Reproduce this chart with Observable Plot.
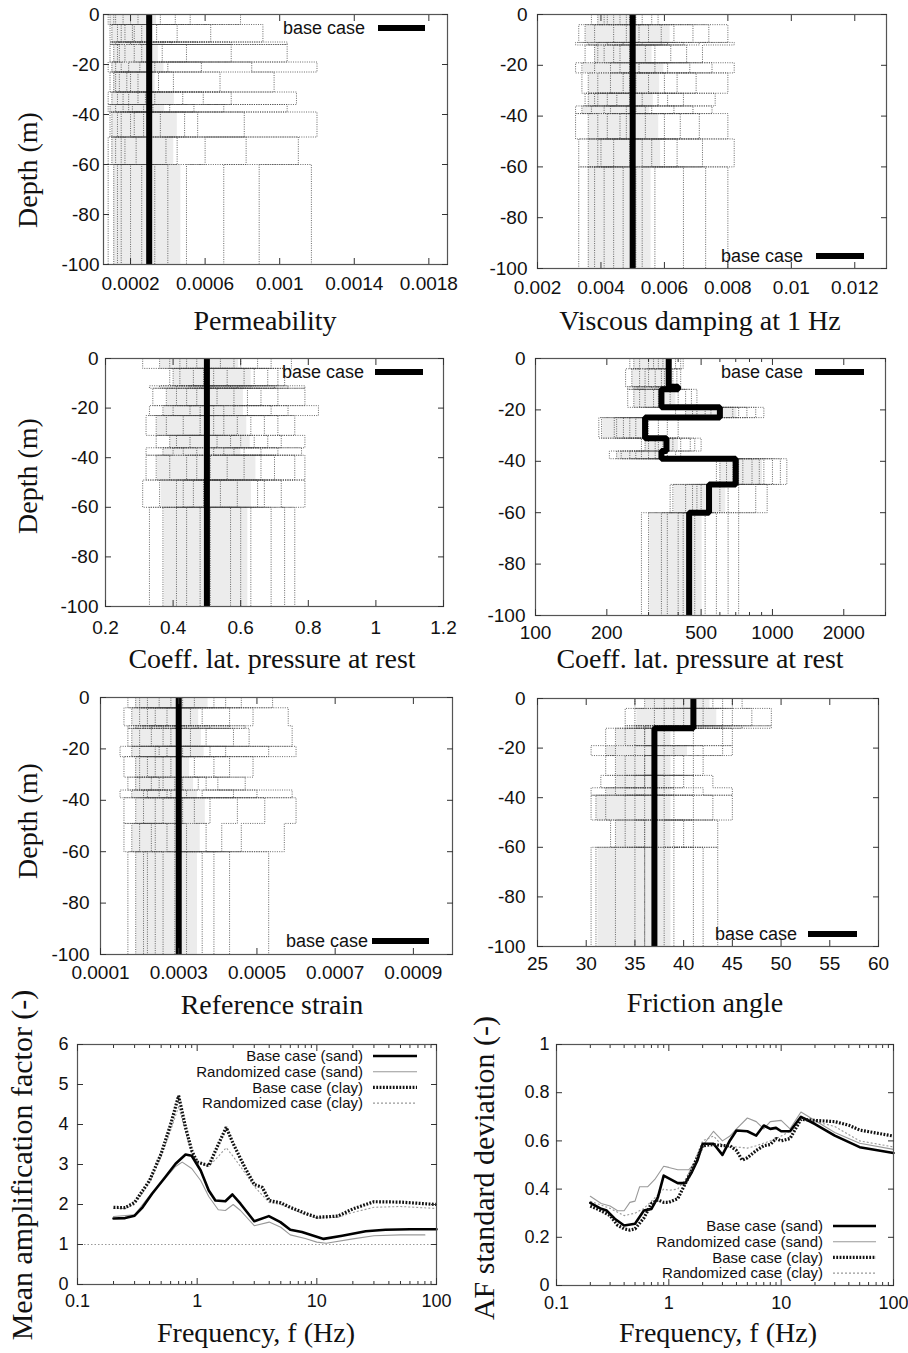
<!DOCTYPE html>
<html><head><meta charset="utf-8">
<script src="https://cdn.jsdelivr.net/npm/d3@7"></script>
<script src="https://cdn.jsdelivr.net/npm/@observablehq/plot@0.6"></script>
<style>
html,body{margin:0;padding:0;background:#fff;}
#page{position:relative;width:908px;height:1353px;overflow:hidden;background:#fff;}
.panel{position:absolute;}
#overlay{position:absolute;left:0;top:0;pointer-events:none;}
</style></head><body><div id="page"></div>
<script>
// ---------- layer structure (depth, m) ----------
const layerTop    = [0, -4, -11, -12, -19, -23, -31, -36, -39, -49, -60];
const layerBottom = [-4, -11, -12, -19, -23, -31, -36, -39, -49, -60, -100];
const depthTicks  = [0, -20, -40, -60, -80, -100];
const depthLabels = ["0", "-20", "-40", "-60", "-80", "-100"];

// ---------- Permeability (12 realizations per layer) ----------
const permBase = [3e-4,3e-4,3e-4,3e-4,3e-4,3e-4,3e-4,3e-4,3e-4,3e-4,3e-4];
const permReal = [
  [1.2e-4,2.4e-4,0.9e-4,3.6e-4,1.6e-4,5.2e-4,2.0e-4,0.8e-4,2.9e-4,7.9e-4,1.1e-4,4.4e-4],
  [2.1e-4,0.9e-4,4.5e-4,1.3e-4,9.1e-4,2.6e-4,1.7e-4,6.3e-4,1.0e-4,3.4e-4,1.5e-4,2.2e-4],
  [1.0e-4,3.1e-4,1.8e-4,10.4e-4,2.5e-4,1.2e-4,5.6e-4,0.9e-4,2.0e-4,4.2e-4,1.4e-4,7.4e-4],
  [1.4e-4,10.4e-4,2.2e-4,0.9e-4,7.4e-4,1.7e-4,3.7e-4,1.1e-4,5.0e-4,2.6e-4,1.3e-4,3.0e-4],
  [0.8e-4,2.5e-4,12.0e-4,1.5e-4,4.0e-4,1.0e-4,2.9e-4,8.5e-4,1.9e-4,5.8e-4,1.2e-4,3.3e-4],
  [2.9e-4,1.1e-4,1.8e-4,6.8e-4,0.9e-4,4.3e-4,2.4e-4,9.7e-4,1.4e-4,3.5e-4,2.0e-4,1.2e-4],
  [1.3e-4,4.8e-4,0.8e-4,2.4e-4,10.9e-4,1.9e-4,3.3e-4,1.0e-4,7.4e-4,2.8e-4,1.6e-4,5.9e-4],
  [3.2e-4,0.9e-4,1.6e-4,5.4e-4,2.1e-4,10.4e-4,1.2e-4,2.7e-4,0.8e-4,4.1e-4,1.9e-4,7.0e-4],
  [1.0e-4,2.7e-4,4.9e-4,1.5e-4,12.0e-4,0.9e-4,3.6e-4,2.2e-4,8.1e-4,1.3e-4,5.6e-4,2.0e-4],
  [2.3e-4,1.2e-4,3.9e-4,0.8e-4,6.0e-4,1.7e-4,11.0e-4,2.9e-4,1.0e-4,4.5e-4,1.5e-4,8.2e-4],
  [1.1e-4,3.3e-4,0.8e-4,2.0e-4,5.0e-4,1.5e-4,8.9e-4,2.6e-4,11.7e-4,1.3e-4,4.0e-4,7.0e-4]
];
const permTicks  = [0.0002, 0.0006, 0.001, 0.0014, 0.0018];
const permLabels = ["0.0002", "0.0006", "0.001", "0.0014", "0.0018"];

// ---------- Viscous damping at 1 Hz ----------
const dampBase = [0.005,0.005,0.005,0.005,0.005,0.005,0.005,0.005,0.005,0.005,0.005];
const dampReal = [
  [4.1e-3,5.3e-3,3.7e-3,4.8e-3,5.8e-3,4.4e-3,3.9e-3,5.1e-3,4.6e-3,5.6e-3,4.2e-3,4.9e-3],
  [3.3e-3,5.2e-3,6.9e-3,4.4e-3,8.0e-3,3.8e-3,5.9e-3,4.8e-3,7.4e-3,3.5e-3,6.3e-3,5.5e-3],
  [5.9e-3,3.2e-3,4.7e-3,8.2e-3,3.9e-3,6.6e-3,5.3e-3,4.2e-3,7.1e-3,3.6e-3,5.0e-3,6.1e-3],
  [3.8e-3,6.2e-3,4.4e-3,7.2e-3,3.5e-3,5.4e-3,4.1e-3,6.7e-3,4.9e-3,3.9e-3,5.7e-3,4.6e-3],
  [6.8e-3,3.4e-3,8.2e-3,4.9e-3,3.2e-3,5.7e-3,7.5e-3,4.3e-3,6.1e-3,3.8e-3,5.2e-3,4.6e-3],
  [4.7e-3,3.4e-3,6.4e-3,5.5e-3,8.0e-3,3.9e-3,4.3e-3,7.0e-3,5.1e-3,3.6e-3,6.0e-3,4.9e-3],
  [3.6e-3,5.8e-3,4.2e-3,7.6e-3,3.9e-3,4.9e-3,6.6e-3,3.5e-3,5.3e-3,4.5e-3,6.1e-3,3.8e-3],
  [5.1e-3,3.2e-3,7.5e-3,4.3e-3,3.7e-3,6.3e-3,4.8e-3,5.6e-3,3.4e-3,4.1e-3,6.9e-3,5.4e-3],
  [3.2e-3,6.0e-3,4.6e-3,8.0e-3,3.6e-3,5.4e-3,7.1e-3,4.2e-3,3.9e-3,6.5e-3,5.0e-3,4.8e-3],
  [4.9e-3,3.3e-3,6.4e-3,5.6e-3,8.2e-3,4.0e-3,3.6e-3,7.2e-3,5.3e-3,4.4e-3,6.0e-3,3.9e-3],
  [3.3e-3,4.4e-3,5.3e-3,6.6e-3,3.8e-3,8.0e-3,5.1e-3,4.1e-3,7.3e-3,3.6e-3,5.7e-3,4.7e-3]
];
const dampTicks  = [0.002, 0.004, 0.006, 0.008, 0.01, 0.012];
const dampLabels = ["0.002", "0.004", "0.006", "0.008", "0.01", "0.012"];

// ---------- Coeff. lat. pressure at rest (linear) ----------
const k0Base = [0.5,0.5,0.5,0.5,0.5,0.5,0.5,0.5,0.5,0.5,0.5];
const k0Real = [
  [0.42,0.58,0.31,0.65,0.47,0.75,0.36,0.54,0.69,0.44,0.60,0.39],
  [0.52,0.39,0.73,0.46,0.61,0.42,0.68,0.56,0.40,0.64,0.49,0.71],
  [0.33,0.79,0.48,0.57,0.41,0.70,0.36,0.63,0.52,0.45,0.74,0.59],
  [0.62,0.34,0.53,0.79,0.41,0.47,0.71,0.38,0.58,0.66,0.44,0.50],
  [0.45,0.69,0.33,0.58,0.83,0.40,0.62,0.52,0.74,0.37,0.55,0.48],
  [0.38,0.55,0.71,0.32,0.48,0.63,0.76,0.43,0.59,0.52,0.35,0.67],
  [0.64,0.41,0.79,0.50,0.35,0.57,0.45,0.72,0.39,0.60,0.53,0.68],
  [0.32,0.47,0.58,0.78,0.43,0.66,0.37,0.52,0.71,0.55,0.40,0.61],
  [0.56,0.32,0.66,0.44,0.76,0.51,0.39,0.70,0.47,0.61,0.35,0.79],
  [0.46,0.67,0.31,0.59,0.41,0.79,0.54,0.36,0.65,0.49,0.72,0.43],
  [0.37,0.51,0.63,0.44,0.76,0.33,0.57,0.69,0.41,0.48,0.73,0.60]
];
const k0Ticks  = [0.2, 0.4, 0.6, 0.8, 1, 1.2];
const k0Labels = ["0.2", "0.4", "0.6", "0.8", "1", "1.2"];

// ---------- Coeff. lat. pressure at rest (log panel) ----------
const gBase = [365,365,400,340,600,290,357,340,700,540,445];
const gReal = [
  [300,360,250,410,330,275,390,345,260,420,315,370],
  [340,240,395,290,365,255,410,320,275,380,300,350],
  [270,380,320,245,405,350,290,330,260,395,310,360],
  [290,480,245,370,315,430,260,340,400,275,455,330],
  [520,390,780,460,920,610,430,680,550,850,480,720],
  [250,190,330,215,285,400,235,300,185,360,265,220],
  [360,280,450,320,500,300,410,345,290,470,380,330],
  [280,220,360,250,410,300,230,340,205,390,265,320],
  [750,600,920,680,1150,820,640,1000,720,880,580,1080],
  [480,380,650,540,850,430,720,500,370,600,950,460],
  [400,300,520,360,650,440,280,580,470,340,720,420]
];
const gTicks      = [100, 200, 500, 1000, 2000];
const gLabels     = ["100", "200", "500", "1000", "2000"];
const gMinorTicks = [300, 400, 600, 700, 800, 900, 3000];

// ---------- Reference strain ----------
const strainBase = [3e-4,3e-4,3e-4,3e-4,3e-4,3e-4,3e-4,3e-4,3e-4,3e-4,3e-4];
const strainReal = [
  [2.2e-4,3.4e-4,1.7e-4,4.6e-4,2.8e-4,5.4e-4,1.9e-4,3.9e-4,2.5e-4,3.1e-4,2.0e-4,4.2e-4],
  [3.0e-4,1.6e-4,4.3e-4,2.4e-4,5.8e-4,2.0e-4,3.6e-4,2.7e-4,4.9e-4,1.8e-4,3.3e-4,2.2e-4],
  [2.1e-4,4.7e-4,1.7e-4,3.2e-4,5.9e-4,2.6e-4,3.8e-4,1.9e-4,2.9e-4,4.3e-4,2.3e-4,3.5e-4],
  [4.4e-4,2.3e-4,3.0e-4,1.7e-4,5.9e-4,2.6e-4,3.7e-4,2.0e-4,4.8e-4,2.8e-4,1.8e-4,3.3e-4],
  [1.5e-4,3.3e-4,2.4e-4,6.0e-4,2.0e-4,4.2e-4,2.7e-4,3.8e-4,1.8e-4,5.3e-4,2.5e-4,3.1e-4],
  [2.6e-4,1.6e-4,3.9e-4,2.2e-4,4.9e-4,3.0e-4,1.9e-4,2.8e-4,4.3e-4,2.4e-4,3.4e-4,2.0e-4],
  [3.5e-4,2.0e-4,4.7e-4,2.6e-4,1.7e-4,3.1e-4,4.0e-4,2.3e-4,2.9e-4,1.9e-4,3.7e-4,2.5e-4],
  [1.5e-4,2.8e-4,3.6e-4,2.1e-4,5.9e-4,2.5e-4,4.4e-4,1.8e-4,3.2e-4,2.7e-4,5.0e-4,2.2e-4],
  [2.4e-4,1.6e-4,3.8e-4,5.2e-4,2.1e-4,6.0e-4,2.9e-4,3.4e-4,1.9e-4,4.5e-4,2.6e-4,3.1e-4],
  [3.2e-4,2.3e-4,1.6e-4,4.6e-4,2.7e-4,5.7e-4,2.0e-4,3.7e-4,2.4e-4,4.1e-4,1.8e-4,2.9e-4],
  [1.7e-4,2.6e-4,3.6e-4,2.1e-4,5.3e-4,2.9e-4,1.9e-4,4.3e-4,2.4e-4,3.2e-4,2.2e-4,3.9e-4]
];
const strainTicks  = [0.0001, 0.0003, 0.0005, 0.0007, 0.0009];
const strainLabels = ["0.0001", "0.0003", "0.0005", "0.0007", "0.0009"];

// ---------- Friction angle ----------
const phiBase = [41,41,41,37,37,37,37,37,37,37,37];
const phiReal = [
  [38,42,35,44,40,36,46,39,41,37,43,45],
  [41,35,47,39,44,34,49,42,37,45,40,38],
  [36,44,40,49,34,42,38,46,41,35,43,39],
  [35,32,39,37,44,33,36,41,34,38,45,36],
  [37,30.5,42,35,45,33,39,36,41,32,38,44],
  [36,33,39,35,42,32,37,40,34,38,36,41],
  [38,31.5,35,41,36,43,33,39,37,34,40,36],
  [34,39,30.5,42,36,45,33,38,35,41,37,32],
  [39,31,36,43,34,37,45,32,38,35,41,30.5],
  [36,40,33,38,43.5,35,37,32.5,41,36,39,34],
  [35,38,31,41,36,43.5,33,37,39,30.5,42,36]
];
const phiTicks  = [25, 30, 35, 40, 45, 50, 55, 60];
const phiLabels = ["25", "30", "35", "40", "45", "50", "55", "60"];

// ---------- Mean amplification factor ----------
const mafBaseSandF = [0.2,0.25,0.3,0.35,0.42,0.54,0.66,0.8,0.9,1.07,1.25,1.42,1.72,1.97,2.3,3.0,3.97,4.96,6.0,7.5,11.4,16.3,25.6,37.5,60,100];
const mafBaseSandV = [1.65,1.66,1.72,1.93,2.27,2.68,3.02,3.25,3.22,2.85,2.35,2.1,2.08,2.25,2.02,1.58,1.71,1.56,1.37,1.31,1.14,1.22,1.33,1.37,1.38,1.38];
const mafRandSandF = [0.2,0.3,0.42,0.54,0.66,0.75,0.9,1.07,1.25,1.5,1.72,2.0,2.3,3.0,4.0,5.0,6.0,8.0,10,12,20,30,50,80];
const mafRandSandV = [1.7,1.74,2.3,2.65,2.95,3.06,2.9,2.6,2.2,1.87,1.85,2.0,1.85,1.47,1.56,1.43,1.24,1.15,1.06,1.03,1.14,1.22,1.24,1.24];
const mafBaseClayF = [0.2,0.25,0.3,0.4,0.5,0.6,0.7,0.8,0.9,1.0,1.25,1.5,1.75,2.0,2.5,3.0,3.5,4.0,5.0,6.0,8.0,10,15,20,30,50,100];
const mafBaseClayV = [1.93,1.92,2.05,2.6,3.27,4.0,4.72,3.93,3.35,3.06,2.97,3.5,3.93,3.52,2.93,2.5,2.43,2.1,2.04,1.93,1.78,1.68,1.71,1.89,2.07,2.06,2.0];
const mafRandClayF = [0.2,0.25,0.3,0.4,0.5,0.6,0.7,0.8,0.9,1.0,1.25,1.5,1.75,2.0,2.5,3.0,4.0,5.0,6.0,8.0,10,15,20,30,50,100];
const mafRandClayV = [1.9,1.9,2.0,2.55,3.2,3.85,4.45,3.8,3.3,3.05,2.95,3.2,3.42,3.2,2.8,2.45,2.05,2.0,1.9,1.75,1.66,1.68,1.8,1.93,1.95,1.9];
const mafRefLine = [1];
const mafYTicks  = [0, 1, 2, 3, 4, 5, 6];
const mafYLabels = ["0", "1", "2", "3", "4", "5", "6"];

// ---------- AF standard deviation ----------
const sdBaseSandF = [0.2,0.25,0.28,0.33,0.4,0.5,0.6,0.7,0.8,0.9,1.2,1.4,1.6,1.8,2.0,2.5,3.0,3.5,4.0,5,6,7,8,9,10,12,15,20,30,50,100];
const sdBaseSandV = [0.343,0.318,0.311,0.277,0.249,0.256,0.311,0.318,0.367,0.456,0.425,0.425,0.47,0.52,0.588,0.588,0.542,0.602,0.643,0.64,0.622,0.664,0.65,0.654,0.64,0.64,0.70,0.67,0.622,0.574,0.55];
const sdRandSandF = [0.2,0.25,0.3,0.35,0.4,0.45,0.5,0.55,0.65,0.75,0.9,1.0,1.2,1.5,1.8,2.0,2.5,3.0,3.5,4,5,6,7,8,10,12,15,20,30,50,100];
const sdRandSandV = [0.37,0.34,0.33,0.31,0.31,0.345,0.35,0.41,0.41,0.44,0.495,0.49,0.48,0.48,0.52,0.58,0.64,0.60,0.62,0.65,0.695,0.68,0.65,0.68,0.685,0.65,0.72,0.685,0.635,0.59,0.565];
const sdBaseClayF = [0.2,0.25,0.3,0.35,0.4,0.45,0.5,0.6,0.7,0.8,0.9,1.0,1.2,1.5,2.0,2.5,3,3.5,4,4.5,5,6,7,8,9,10,12,15,20,30,40,50,100];
const sdBaseClayV = [0.33,0.31,0.29,0.25,0.235,0.23,0.235,0.28,0.34,0.355,0.345,0.345,0.36,0.45,0.58,0.585,0.58,0.58,0.56,0.52,0.53,0.56,0.58,0.585,0.61,0.60,0.61,0.69,0.685,0.68,0.665,0.645,0.62];
const sdRandClayF = [0.2,0.3,0.4,0.5,0.6,0.7,0.9,1.0,1.2,1.4,1.6,2.0,2.5,3,4,5,6,8,10,12,15,20,30,50,100];
const sdRandClayV = [0.35,0.32,0.29,0.30,0.32,0.35,0.40,0.395,0.40,0.44,0.49,0.60,0.62,0.58,0.575,0.57,0.58,0.60,0.62,0.64,0.70,0.68,0.66,0.60,0.575];
const sdYTicks  = [0, 0.2, 0.4, 0.6, 0.8, 1];
const sdYLabels = ["0", "0.2", "0.4", "0.6", "0.8", "1"];

const freqTicks  = [0.1, 1, 10, 100];
const freqLabels = ["0.1", "1", "10", "100"];
const freqMinor  = [0.2,0.3,0.4,0.5,0.6,0.7,0.8,0.9,2,3,4,5,6,7,8,9,20,30,40,50,60,70,80,90];

const seriesNames = ["Base case (sand)", "Randomized case (sand)", "Base case (clay)", "Randomized case (clay)"];

// ---------- helpers ----------
const page = document.getElementById("page");
const FONT = "'Liberation Sans', Arial, sans-serif";
const SERIF = "'Liberation Serif', 'Times New Roman', serif";
const TICKFONT = 19;

function fmt(ticks, labels) {
  const m = new Map(ticks.map((t, i) => [t, labels[i]]));
  return d => (m.has(d) ? m.get(d) : "");
}
function place(svg, left, top) {
  const div = document.createElement("div");
  div.className = "panel";
  div.style.left = left + "px";
  div.style.top = top + "px";
  div.appendChild(svg);
  page.appendChild(div);
}
function axes(o) {
  const T = 6, t = 3;
  const fs = o.fs || TICKFONT;
  const m = [
    Plot.axisX({ticks: o.xTicks, tickSize: -T, tickPadding: o.xOff + T, tickFormat: fmt(o.xTicks, o.xLabels), label: null, fontSize: fs, stroke: "#333"}),
    Plot.axisX({anchor: "top", ticks: o.xTicks, tickSize: -T, tickFormat: () => "", label: null, stroke: "#333"}),
    Plot.axisY({ticks: o.yTicks, tickSize: -T, tickPadding: o.yOff + T, tickFormat: fmt(o.yTicks, o.yLabels), label: null, fontSize: fs, stroke: "#333"}),
    Plot.axisY({anchor: "right", ticks: o.yTicks, tickSize: -T, tickFormat: () => "", label: null, stroke: "#333"})
  ];
  if (o.xMinor) {
    m.push(Plot.axisX({ticks: o.xMinor, tickSize: -t, tickFormat: () => "", label: null, stroke: "#333"}));
    m.push(Plot.axisX({anchor: "top", ticks: o.xMinor, tickSize: -t, tickFormat: () => "", label: null, stroke: "#333"}));
  }
  return m;
}

function depthPanel(o) {
  const real = [];
  const n = o.values[0].length;
  for (let r = 0; r < n; r++) {
    o.values.forEach((row, l) => {
      real.push({r, x: row[r], y: layerTop[l]});
      real.push({r, x: row[r], y: layerBottom[l]});
    });
  }
  // dense core of each layer's realizations (derived from the values)
  const cores = o.values.map((row, l) => ({
    x1: d3.quantile(row, 0.1), x2: d3.quantile(row, 0.7), y1: layerTop[l], y2: layerBottom[l]
  }));
  const base = [];
  o.base.forEach((v, l) => {
    base.push({x: v, y: layerTop[l]});
    base.push({x: v, y: layerBottom[l]});
  });
  const svg = Plot.plot({
    width: o.w, height: o.h,
    marginLeft: o.ml, marginRight: o.mr, marginTop: o.mt, marginBottom: o.mb,
    x: {type: o.type || "linear", domain: o.domain},
    y: {domain: [-100, 0]},
    style: {fontFamily: FONT, fontSize: TICKFONT + "px", color: "#111", background: "transparent", overflow: "visible"},
    marks: [
      Plot.rect(cores, {x1: "x1", x2: "x2", y1: "y1", y2: "y2", fill: "#ececec"}),
      Plot.line(real, {x: "x", y: "y", z: "r", stroke: "#444", strokeWidth: 1, strokeDasharray: "1,1.3", strokeLinecap: "butt", strokeOpacity: 0.8, curve: "linear"}),
      Plot.line(base, {x: "x", y: "y", stroke: "#000", strokeWidth: 6, strokeLinejoin: "miter", strokeLinecap: "butt"}),
      Plot.frame({stroke: "#555", strokeWidth: 1.2}),
      ...axes({xTicks: o.xTicks, xLabels: o.xLabels, yTicks: depthTicks, yLabels: depthLabels, xOff: o.xOff, yOff: o.yOff, xMinor: o.xMinor})
    ]
  });
  place(svg, o.left, o.top);
}

function freqPanel(o) {
  const mk = (F, V) => F.map((f, i) => ({f, v: V[i]}));
  const svg = Plot.plot({
    width: o.w, height: o.h,
    marginLeft: o.ml, marginRight: o.mr, marginTop: o.mt, marginBottom: o.mb,
    x: {type: "log", domain: [0.1, 100]},
    y: {domain: o.yDomain},
    style: {fontFamily: FONT, fontSize: "18px", color: "#111", background: "transparent", overflow: "visible"},
    marks: [
      ...(o.ref ? [Plot.ruleY(o.ref, {stroke: "#999", strokeWidth: 1, strokeDasharray: "1.5,2"})] : []),
      Plot.line(mk(o.rsF, o.rsV), {x: "f", y: "v", stroke: "#999", strokeWidth: 1.1}),
      Plot.line(mk(o.rcF, o.rcV), {x: "f", y: "v", stroke: "#999", strokeWidth: 1.1, strokeDasharray: "2,2", strokeLinecap: "butt"}),
      Plot.line(mk(o.bsF, o.bsV), {x: "f", y: "v", stroke: "#000", strokeWidth: 2.6}),
      Plot.line(mk(o.bcF, o.bcV), {x: "f", y: "v", stroke: "#111", strokeWidth: 3.2, strokeDasharray: "1.8,1.5", strokeLinecap: "butt", strokeLinejoin: "miter"}),
      Plot.frame({stroke: "#555", strokeWidth: 1.2}),
      ...axes({xTicks: freqTicks, xLabels: freqLabels, yTicks: o.yTicks, yLabels: o.yLabels, xOff: o.xOff, yOff: o.yOff, xMinor: freqMinor, fs: 18})
    ]
  });
  place(svg, o.left, o.top);
}

// ---------- panels ----------
depthPanel({left: 0, top: 0, w: 454, h: 340, ml: 103, mr: 7, mt: 14, mb: 76,
  domain: [0.000055, 0.0019], values: permReal, base: permBase, xTicks: permTicks, xLabels: permLabels, xOff: 12, yOff: 4});
depthPanel({left: 454, top: 0, w: 454, h: 340, ml: 83, mr: 22, mt: 14, mb: 72,
  domain: [0.002, 0.013], values: dampReal, base: dampBase, xTicks: dampTicks, xLabels: dampLabels, xOff: 12, yOff: 10});
depthPanel({left: 0, top: 340, w: 454, h: 340, ml: 105, mr: 11, mt: 18, mb: 74,
  domain: [0.2, 1.2], values: k0Real, base: k0Base, xTicks: k0Ticks, xLabels: k0Labels, xOff: 14, yOff: 7});
depthPanel({left: 454, top: 340, w: 454, h: 340, ml: 81, mr: 23, mt: 18, mb: 65, type: "log",
  domain: [100, 3000], values: gReal, base: gBase, xTicks: gTicks, xLabels: gLabels, xMinor: gMinorTicks, xOff: 10, yOff: 10});
depthPanel({left: 0, top: 680, w: 454, h: 340, ml: 100, mr: 2, mt: 17, mb: 66,
  domain: [0.0001, 0.001], values: strainReal, base: strainBase, xTicks: strainTicks, xLabels: strainLabels, xOff: 11, yOff: 11});
depthPanel({left: 454, top: 680, w: 454, h: 340, ml: 83, mr: 30, mt: 18, mb: 74,
  domain: [25, 60], values: phiReal, base: phiBase, xTicks: phiTicks, xLabels: phiLabels, xOff: 10, yOff: 12});

freqPanel({left: 0, top: 1020, w: 454, h: 333, ml: 77, mr: 18, mt: 24, mb: 69,
  yDomain: [0, 6], yTicks: mafYTicks, yLabels: mafYLabels, ref: mafRefLine, xOff: 10, yOff: 9,
  bsF: mafBaseSandF, bsV: mafBaseSandV, rsF: mafRandSandF, rsV: mafRandSandV,
  bcF: mafBaseClayF, bcV: mafBaseClayV, rcF: mafRandClayF, rcV: mafRandClayV});
freqPanel({left: 454, top: 1020, w: 454, h: 333, ml: 102, mr: 15, mt: 24, mb: 68,
  yDomain: [0, 1], yTicks: sdYTicks, yLabels: sdYLabels, xOff: 11, yOff: 7,
  bsF: sdBaseSandF, bsV: sdBaseSandV, rsF: sdRandSandF, rsV: sdRandSandV,
  bcF: sdBaseClayF, bcV: sdBaseClayV, rcF: sdRandClayF, rcV: sdRandClayV});

// ---------- titles and legends (overlay) ----------
const ov = d3.select(page).append("svg").attr("id", "overlay").attr("width", 908).attr("height", 1353);

const xTitles = [
  {t: "Permeability", x: 265, y: 330},
  {t: "Viscous damping at 1 Hz", x: 700, y: 330},
  {t: "Coeff. lat. pressure at rest", x: 272, y: 668},
  {t: "Coeff. lat. pressure at rest", x: 700, y: 668},
  {t: "Reference strain", x: 272, y: 1014},
  {t: "Friction angle", x: 705, y: 1012},
  {t: "Frequency, f (Hz)", x: 256, y: 1342},
  {t: "Frequency, f (Hz)", x: 718, y: 1342}
];
ov.selectAll("text.xt").data(xTitles).join("text").attr("class", "xt")
  .attr("x", d => d.x).attr("y", d => d.y).attr("text-anchor", "middle")
  .style("font-family", SERIF).style("font-size", "28px").attr("fill", "#111").text(d => d.t);

const yTitles = [
  {t: "Depth (m)", x: 37, y: 170, s: 28},
  {t: "Depth (m)", x: 37, y: 476, s: 28},
  {t: "Depth (m)", x: 37, y: 821, s: 28},
  {t: "Mean amplification factor (-)", x: 32, y: 1165, s: 30},
  {t: "AF standard deviation (-)", x: 494, y: 1168, s: 30}
];
ov.selectAll("text.yt").data(yTitles).join("text").attr("class", "yt")
  .attr("transform", d => `translate(${d.x},${d.y}) rotate(-90)`).attr("text-anchor", "middle")
  .style("font-family", SERIF).style("font-size", d => d.s + "px").attr("fill", "#111").text(d => d.t);

const baseLegends = [
  {tx: 365, y: 28, x1: 378, x2: 425},
  {tx: 803, y: 256, x1: 816, x2: 864},
  {tx: 364, y: 372, x1: 375, x2: 423},
  {tx: 803, y: 372, x1: 815, x2: 864},
  {tx: 368, y: 941, x1: 372, x2: 429},
  {tx: 797, y: 934, x1: 808, x2: 857}
];
baseLegends.forEach(d => {
  ov.append("text").attr("x", d.tx).attr("y", d.y).attr("dy", "0.35em").attr("text-anchor", "end")
    .style("font-family", FONT).style("font-size", "18px").attr("fill", "#111").text("base case");
  ov.append("line").attr("x1", d.x1).attr("x2", d.x2).attr("y1", d.y).attr("y2", d.y)
    .attr("stroke", "#000").attr("stroke-width", 6);
});

const seriesStyles = [
  {stroke: "#000", w: 2.6, dash: null},
  {stroke: "#999", w: 1.1, dash: null},
  {stroke: "#111", w: 3.2, dash: "1.8,1.5"},
  {stroke: "#999", w: 1.1, dash: "2,2"}
];
const freqLegends = [
  {tx: 363, y0: 1056, dy: 15.7, x1: 373, x2: 417},
  {tx: 823, y0: 1226, dy: 15.7, x1: 833, x2: 876}
];
freqLegends.forEach(L => {
  seriesNames.forEach((name, i) => {
    const y = L.y0 + i * L.dy;
    ov.append("text").attr("x", L.tx).attr("y", y).attr("dy", "0.35em").attr("text-anchor", "end")
      .style("font-family", FONT).style("font-size", "15px").attr("fill", "#111").text(name);
    const s = seriesStyles[i];
    ov.append("line").attr("x1", L.x1).attr("x2", L.x2).attr("y1", y).attr("y2", y)
      .attr("stroke", s.stroke).attr("stroke-width", s.w).attr("stroke-dasharray", s.dash);
  });
});
</script></body></html>
